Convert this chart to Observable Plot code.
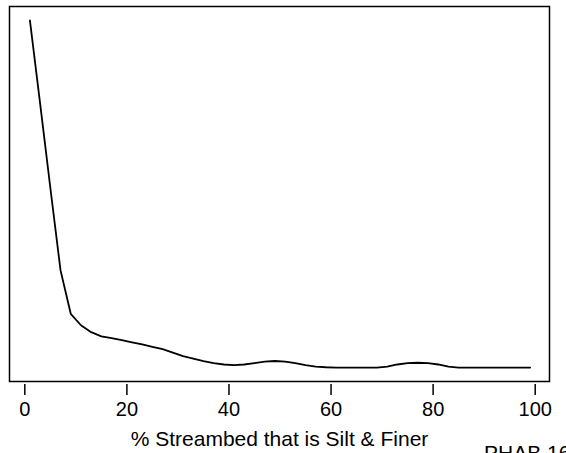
<!DOCTYPE html>
<html>
<head>
<meta charset="utf-8">
<script src="https://cdn.jsdelivr.net/npm/d3@7"></script>
<script src="https://cdn.jsdelivr.net/npm/@observablehq/plot@0.6"></script>
<style>
  html, body { margin: 0; padding: 0; background: #fff; width: 566px; height: 453px; overflow: hidden; }
  #wrap { position: relative; width: 566px; height: 453px; overflow: hidden; }
  #note { position: absolute; left: 484px; top: 442px; font: 21px "Liberation Sans", Arial, sans-serif; line-height: 1; color: #000; white-space: nowrap; }
</style>
</head>
<body>
<div id="wrap"><div id="note">PHAB 16</div></div>
<script>
// % streambed silt & finer (x) and relative response (y, unitless)
const xValues = [1,3,5,7,9,11,13,15,17,19,21,23,25,27,29,31,33,35,37,39,41,43,45,47,49,51,53,55,57,59,61,63,65,67,69,71,73,75,77,79,81,83,85,87,89,91,93,95,97,99];
const yValues = [1.000,0.760,0.518,0.280,0.155,0.122,0.102,0.090,0.085,0.079,0.073,0.067,0.060,0.053,0.043,0.033,0.026,0.019,0.013,0.009,0.007,0.009,0.013,0.017,0.019,0.017,0.013,0.007,0.003,0.001,0.000,0.000,0.000,0.000,0.000,0.003,0.009,0.013,0.014,0.013,0.009,0.003,0.000,0.000,0.000,0.000,0.000,0.000,0.000,0.000];
const xTicks = [0,20,40,60,80,100];
const xLabel = "% Streambed that is Silt & Finer";

const data = xValues.map((x, i) => ({x, y: yValues[i]}));

const chart = Plot.plot({
  width: 566,
  height: 453,
  marginLeft: 9,
  marginRight: 17,
  marginTop: 6,
  marginBottom: 72,
  style: {fontFamily: "'Liberation Sans', Arial, sans-serif", fontSize: "20px", background: "#fff", color: "#000"},
  x: {domain: [-3, 102.8]},
  y: {domain: [-0.04, 1.04], axis: null},
  marks: [
    Plot.frame({stroke: "#000", strokeWidth: 1.5}),
    Plot.axisX({ticks: xTicks, tickSize: 11, tickPadding: 6, dy: 3, strokeWidth: 1.5, fontSize: 20, label: null, tickFormat: d => String(d)}),
    Plot.axisX({ticks: [], tickSize: 0, label: xLabel, labelAnchor: "center", labelArrow: "none", labelOffset: 64, fontSize: 21}),
    Plot.line(data, {x: "x", y: "y", stroke: "#000", strokeWidth: 1.8, curve: "linear"})
  ]
});
document.getElementById("wrap").prepend(chart);
</script>
</body>
</html>
